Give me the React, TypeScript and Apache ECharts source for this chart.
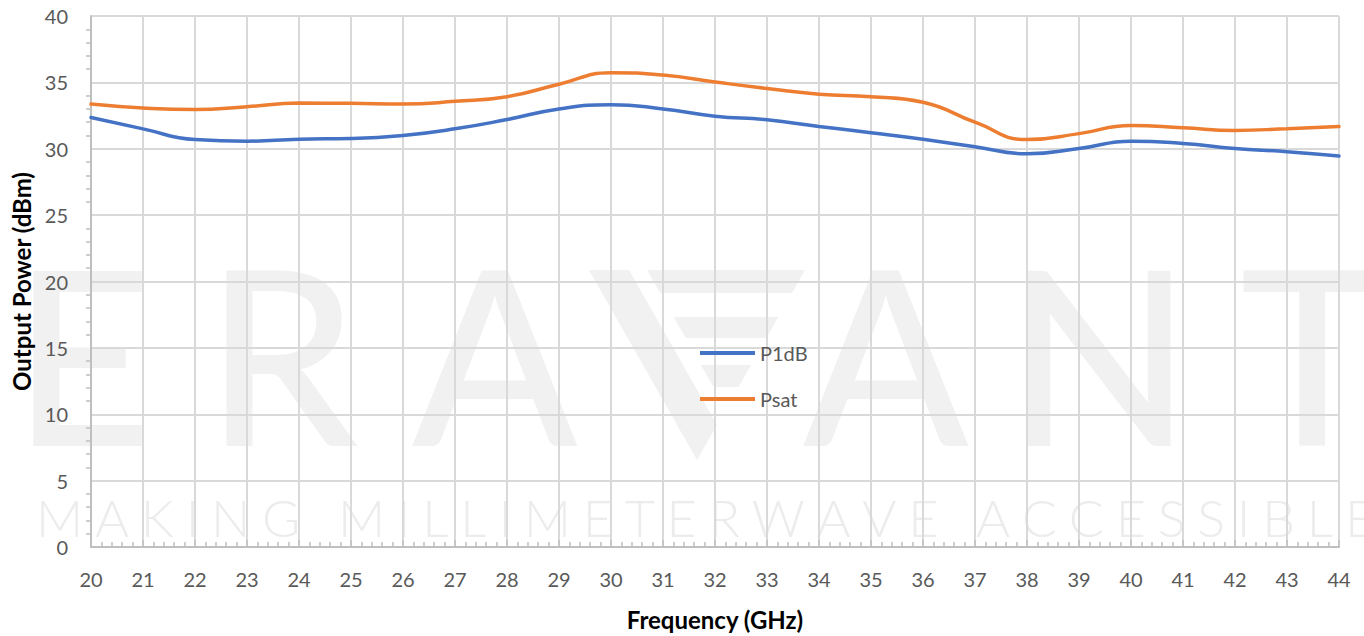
import React, { useEffect, useRef } from "react";
import * as echarts from "echarts";

// ---- Data ----
const frequencies = [20, 21, 22, 23, 24, 25, 26, 27, 28, 29, 30, 31, 32, 33, 34, 35, 36, 37, 38, 39, 40, 41, 42, 43, 44];
const p1dbValues = [32.35, 31.5, 30.69, 30.57, 30.72, 30.77, 31.0, 31.5, 32.2, 33.0, 33.32, 33.0, 32.45, 32.18, 31.68, 31.21, 30.72, 30.15, 29.62, 30.02, 30.57, 30.4, 30.02, 29.78, 29.45];
const psatValues = [33.37, 33.07, 32.95, 33.17, 33.44, 33.42, 33.37, 33.57, 33.92, 34.86, 35.73, 35.55, 35.03, 34.54, 34.11, 33.92, 33.5, 32.0, 30.69, 31.14, 31.76, 31.58, 31.38, 31.51, 31.68];
const seriesNames = ["P1dB", "Psat"];
const xAxisTitle = "Frequency (GHz)";
const yAxisTitle = "Output Power (dBm)";
const watermarkBig = ["E", "R", "A", "A", "N", "T"];
const watermarkSmall = "MAKING MILLIMETERWAVE ACCESSIBLE";

const FONT = "Lato, 'Open Sans', sans-serif";

function getCtx(font: string): CanvasRenderingContext2D | null {
  try {
    const c = document.createElement("canvas").getContext("2d");
    if (c) c.font = font;
    return c;
  } catch (e) {
    return null;
  }
}

function buildWatermark(): any[] {
  const els: any[] = [];
  const wmColor = "#f1f1f1";
  const bigLeft = [33, 226, 412, 803, 1027, 1243];
  const bFont = `normal 500 243px ${FONT}`;
  const bctx = getCtx(bFont);
  watermarkBig.forEach((ch, i) => {
    let bearing = 0;
    if (bctx) {
      const m = bctx.measureText(ch) as any;
      bearing = typeof m.actualBoundingBoxLeft === "number" ? -m.actualBoundingBoxLeft : 0;
    }
    els.push({
      type: "text",
      x: bigLeft[i] - bearing,
      y: 352,
      z: -10,
      silent: true,
      style: { text: ch, fill: wmColor, font: bFont, textAlign: "left", textVerticalAlign: "middle" },
    });
  });
  // stylised V
  const k = 0.568;
  const top = 270;
  const L0 = 589, R0 = 805, stroke = 40, gap = 18;
  els.push({
    type: "polygon", z: -10, silent: true,
    shape: { points: [[L0, top], [L0 + stroke, top], [717, 425], [697, 460]] },
    style: { fill: wmColor },
  });
  const bars = [[270, 293], [317, 338], [365, 387]];
  bars.forEach(([y1, y2]) => {
    els.push({
      type: "polygon", z: -10, silent: true,
      shape: {
        points: [
          [L0 + stroke + gap + k * (y1 - top), y1],
          [R0 - k * (y1 - top), y1],
          [R0 - k * (y2 - top), y2],
          [L0 + stroke + gap + k * (y2 - top), y2],
        ],
      },
      style: { fill: wmColor },
    });
  });
  // small tagline
  const sFont = `normal 300 52px ${FONT}`;
  const sctx = getCtx(sFont);
  const chars = watermarkSmall.split("");
  const widths: number[] = chars.map((ch) => (sctx ? sctx.measureText(ch).width : 30));
  const idxA = 22;
  const before = widths.slice(0, idxA).reduce((a, b) => a + b, 0);
  const spacing = (976 - 36 - before) / idxA;
  let x = 36;
  chars.forEach((ch, i) => {
    if (ch !== " ") {
      els.push({
        type: "text", x, y: 517, z: -10, silent: true,
        style: { text: ch, fill: "#ececec", font: sFont, textAlign: "left", textVerticalAlign: "middle" },
      });
    }
    x += widths[i] + spacing;
  });
  return els;
}

export default function App() {
  const ref = useRef<HTMLDivElement>(null);
  useEffect(() => {
    if (!ref.current) return;
    const chart = echarts.init(ref.current, null, { renderer: "svg" });
    const p1 = frequencies.map((f, i) => [f, p1dbValues[i]]);
    const ps = frequencies.map((f, i) => [f, psatValues[i]]);
    chart.setOption({
      animation: false,
      backgroundColor: "#ffffff",
      textStyle: { fontFamily: FONT },
      grid: { left: 91, right: 25, top: 16, bottom: 82.5, containLabel: false },
      legend: {
        data: seriesNames,
        orient: "vertical",
        left: 700,
        top: 343,
        padding: 0,
        itemGap: 26,
        itemWidth: 55,
        itemHeight: 4,
        icon: "rect",
        textStyle: { fontSize: 20, color: "#595959", fontFamily: FONT },
      },
      xAxis: {
        type: "value",
        min: 20,
        max: 44,
        interval: 1,
        name: xAxisTitle,
        nameLocation: "middle",
        nameGap: 60,
        nameTextStyle: { fontSize: 24, fontWeight: "bold", color: "#000000", fontFamily: FONT },
        axisLine: { show: true, lineStyle: { color: "#bfbfbf", width: 2 } },
        axisTick: { show: true, inside: true, length: 7, lineStyle: { color: "#bfbfbf", width: 1.5 } },
        minorTick: { show: true, splitNumber: 5, length: 5, lineStyle: { color: "#bfbfbf", width: 1.5 } },
        axisLabel: { fontSize: 20, color: "#595959", margin: 22, fontFamily: FONT },
        splitLine: { show: true, lineStyle: { color: "#d9d9d9", width: 2 } },
      },
      yAxis: {
        type: "value",
        min: 0,
        max: 40,
        interval: 5,
        name: yAxisTitle,
        nameLocation: "middle",
        nameGap: 57,
        nameTextStyle: { fontSize: 24, fontWeight: "bold", color: "#000000", fontFamily: FONT },
        axisLine: { show: true, lineStyle: { color: "#bfbfbf", width: 2 } },
        axisTick: { show: false },
        minorTick: { show: true, splitNumber: 5, length: 5, lineStyle: { color: "#bfbfbf", width: 1.5 } },
        axisLabel: { fontSize: 20, color: "#595959", margin: 23, fontFamily: FONT },
        splitLine: { show: true, lineStyle: { color: "#d9d9d9", width: 2 } },
      },
      graphic: { elements: buildWatermark() },
      series: [
        {
          name: seriesNames[0],
          type: "line",
          data: p1,
          smooth: 0.5,
          symbol: "none",
          lineStyle: { color: "#4472c4", width: 3.5, cap: "round" },
          itemStyle: { color: "#4472c4" },
          z: 3,
        },
        {
          name: seriesNames[1],
          type: "line",
          data: ps,
          smooth: 0.5,
          symbol: "none",
          lineStyle: { color: "#ed7d31", width: 3.5, cap: "round" },
          itemStyle: { color: "#ed7d31" },
          z: 3,
        },
      ],
    });
    return () => chart.dispose();
  }, []);
  return <div ref={ref} style={{ width: 1364, height: 636, position: "absolute", left: 0, top: 0 }} />;
}
